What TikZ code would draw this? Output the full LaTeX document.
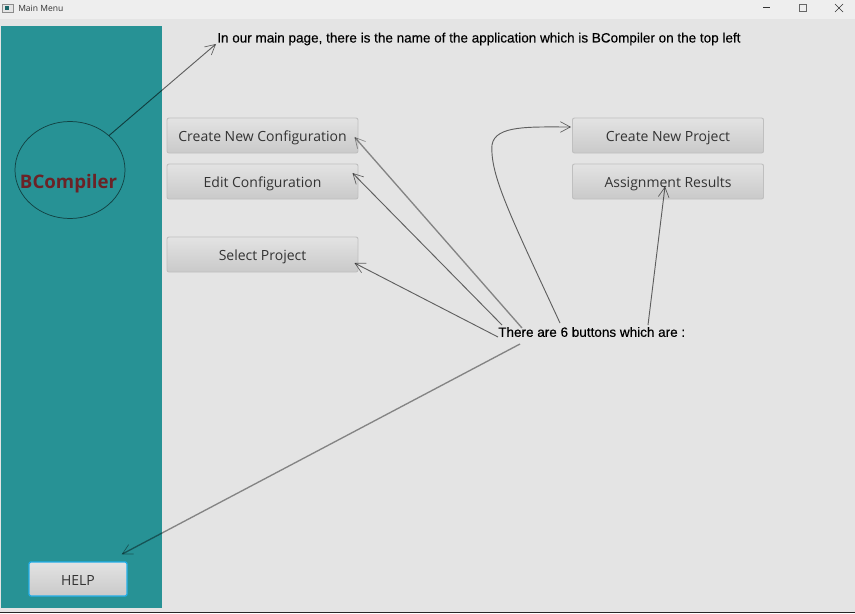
\documentclass[tikz,border=0pt]{standalone}
\usepackage{fontspec}
\setmainfont{Open Sans}
\newfontfamily\notefont[FakeBold=0.3]{Liberation Sans}
\usetikzlibrary{arrows.meta,shapes.geometric}
\definecolor{panelteal}{HTML}{279295}
\definecolor{pagegrey}{HTML}{E4E4E4}
\definecolor{bargrey}{HTML}{EEEEEE}
\definecolor{logored}{HTML}{6B2226}
\definecolor{btntext}{HTML}{333333}
\definecolor{helpblue}{HTML}{22AEE8}
\tikzset{
  btn/.style={draw=#1,line width=0.7pt,rounded corners=1.5pt,top color=black!11,bottom color=black!21,
    text=btntext,font=\fontsize{10.5}{12}\selectfont,inner sep=0pt,text centered,text height=9.5pt,text depth=0pt},
  btn/.default={black!25},
  note/.style={anchor=west,inner sep=0pt,text=black,font=\notefont\fontsize{10.13}{12}\selectfont},
  arrowline/.style={draw=black,draw opacity=0.58,line width=0.7pt,-{Straight Barb[length=7.5pt,width=8pt,line width=0.5pt]}},
  heavyline/.style={arrowline,draw opacity=0.42,line width=1pt}
}
\begin{document}
\begin{tikzpicture}[x=0.75pt,y=-0.75pt]
\useasboundingbox (0,0) rectangle (855,613);
% Window and side panel
\fill[pagegrey] (0,0) rectangle (855,613);
\fill[bargrey] (0,0) rectangle (855,19);
\fill[black!85] (0,612) rectangle (855,613);
\fill[panelteal] (1,26) rectangle (162,608);
% Title bar
\draw[black!45,fill=black!10,line width=0.4pt] (2.5,4) rectangle (13.5,12);
\fill[panelteal!70!black] (5,6) rectangle (9,10);
\node (title) [anchor=west,inner sep=0pt,text=black!80,font=\fontsize{6.4}{8}\selectfont] at (18,8) {Main Menu};
\draw[black!80,line width=0.5pt] (763,7.5) -- (770,7.5);
\draw[black!60,line width=0.5pt] (799,4.5) rectangle (806,11.5);
\draw[black!80,line width=0.5pt] (835,4) -- (843,12);
\draw[black!80,line width=0.5pt] (835,12) -- (843,4);
% Logo
\node (logo) [ellipse,draw=black!55!panelteal,line width=0.55pt,minimum width=82.5pt,minimum height=72.75pt,inner sep=0pt] at (70,170) {};
\node (logotext) [inner sep=0pt,text=logored,font=\bfseries\fontsize{14}{16}\selectfont] at (68.5,183.5) {BCompiler};
% The buttons
\foreach \name/\x/\y/\txt in {cnc/262.5/135.5/Create New Configuration,
    edit/262.5/181.5/Edit Configuration,
    sel/262.5/254.5/Select Project,
    cnp/668/135.5/Create New Project,
    res/668/181.5/Assignment Results} {
\node (\name) [btn,minimum width=143.25pt,minimum height=26.25pt] at (\x,\y) {\txt};
}
\node (help) [btn=helpblue,line width=1pt,minimum width=73.5pt,minimum height=25.5pt] at (78,579) {HELP};
% The notes
\node (top) [note] at (217,39) {In our main page, there is the name of the application which is BCompiler on the top left};
\node (six) [note] at (498,332) {There are 6 buttons which are :};
% The arrows
\draw[arrowline] (logo.north east) -- ([shift={(-1,5)}]top.west);
\draw[heavyline] ([shift={(24,-4)}]six.west) -- ([shift={(-4,1.5)}]cnc.east);
\draw[arrowline] ([shift={(4,-7)}]six.west) -- ([shift={(-6,-8.5)}]edit.east);
\draw[arrowline] ([shift={(0,5)}]six.west) -- ([shift={(-4,8.5)}]sel.east);
\draw[arrowline] ([shift={(62,-9)}]six.west) .. controls (510,215) and (490,175) .. (492,145) .. controls (495,125) and (530,127) .. ([shift={(-1,-8.5)}]cnp.west);
\draw[arrowline] ([shift={(150,-7)}]six.west) -- ([shift={(-3,-13)}]res.south);
\draw[heavyline] ([shift={(22,12)}]six.west) -- ([shift={(-6,-7)}]help.north east);
\end{tikzpicture}
\end{document}
